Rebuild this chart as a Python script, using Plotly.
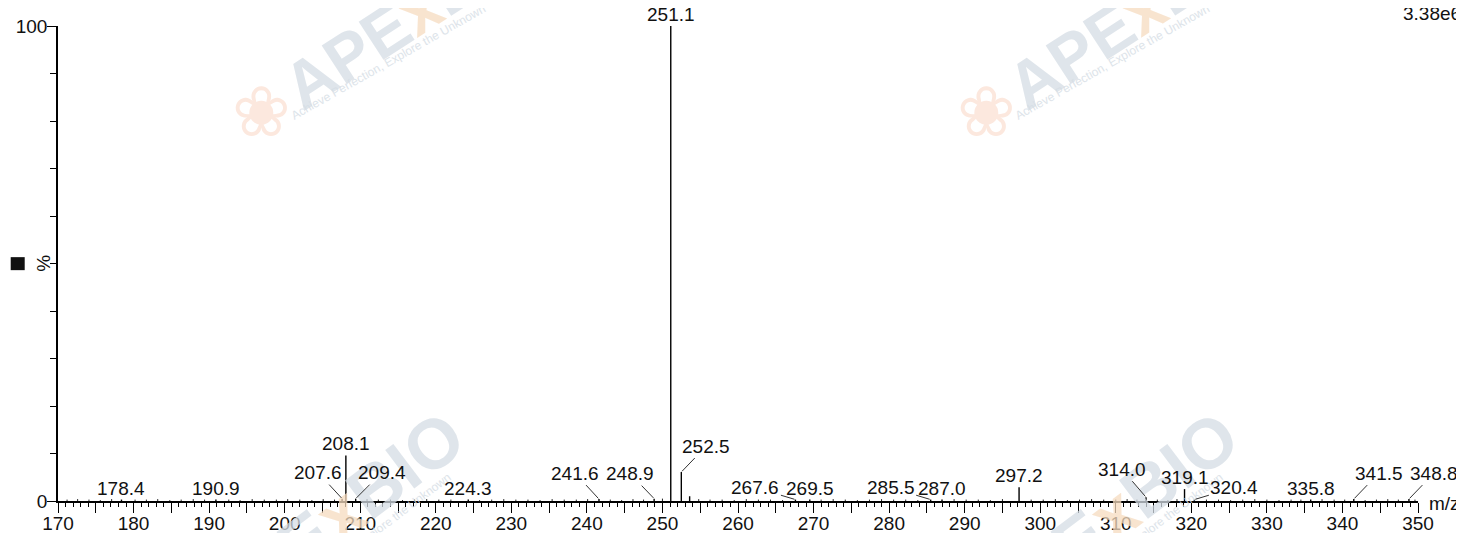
import plotly.graph_objects as go

# ---------------- data ----------------
peak_mz = [178.4, 190.9, 207.6, 208.1, 209.4, 224.3, 241.6, 248.9, 251.1, 252.5, 253.6,
           267.6, 269.5, 285.5, 287.0, 297.2, 314.0, 319.1, 320.4, 335.8, 341.5, 348.8]
peak_int = [0.3, 0.3, 0.5, 9.6, 0.5, 0.3, 0.4, 0.5, 100.0, 6.1, 1.0,
            0.3, 0.3, 0.3, 0.3, 2.9, 0.8, 2.5, 0.3, 0.3, 0.4, 0.4]
peak_labels = ["178.4", "190.9", "207.6", "208.1", "209.4", "224.3", "241.6", "248.9", "251.1", "252.5", "",
               "267.6", "269.5", "285.5", "287.0", "297.2", "314.0", "319.1", "320.4", "335.8", "341.5", "348.8"]

noise_mz = [171.2, 172.6, 174.1, 175.6, 177.1, 180.2, 181.7, 183.2, 184.8, 186.3, 187.9, 189.4,
            192.6, 194.1, 195.7, 197.3, 198.9, 200.4, 202.0, 203.6, 205.1, 206.6, 210.9, 212.4,
            214.0, 215.6, 217.2, 218.8, 220.4, 222.0, 225.8, 227.4, 229.0, 230.6, 232.2, 233.8,
            235.4, 237.0, 238.6, 240.1, 243.1, 244.6, 246.1, 247.5, 250.0, 254.8, 256.3, 257.9,
            259.5, 261.1, 262.7, 264.3, 265.9, 271.0, 272.6, 274.2, 275.8, 277.4, 279.0, 280.6,
            282.2, 283.8, 288.6, 290.2, 291.8, 293.4, 295.0, 298.8, 300.4, 302.0, 303.6, 305.2,
            306.8, 308.4, 310.0, 311.5, 312.8, 315.5, 316.9, 318.1, 322.0, 323.6, 325.2, 326.8,
            328.4, 330.0, 331.6, 333.2, 334.5, 337.3, 338.9, 340.3, 343.0, 344.5, 346.0, 347.4, 349.6]
noise_int = [0.3, 0.4, 0.3, 0.2, 0.4, 0.3, 0.3, 0.4, 0.2, 0.3, 0.4, 0.3,
             0.3, 0.2, 0.4, 0.3, 0.3, 0.4, 0.3, 0.2, 0.4, 0.3, 0.4, 0.3,
             0.3, 0.2, 0.3, 0.4, 0.3, 0.3, 0.2, 0.3, 0.4, 0.3, 0.3, 0.2,
             0.4, 0.3, 0.3, 0.4, 0.3, 0.2, 0.4, 0.3, 0.5, 0.4, 0.3, 0.3,
             0.2, 0.4, 0.3, 0.3, 0.2, 0.3, 0.4, 0.3, 0.2, 0.3, 0.4, 0.3,
             0.3, 0.2, 0.4, 0.3, 0.3, 0.2, 0.4, 0.3, 0.3, 0.4, 0.2, 0.3,
             0.4, 0.3, 0.3, 0.4, 0.3, 0.3, 0.2, 0.4, 0.3, 0.3, 0.2, 0.3,
             0.4, 0.3, 0.2, 0.3, 0.3, 0.4, 0.3, 0.3, 0.2, 0.3, 0.4, 0.3, 0.3]

x_major_ticks = list(range(170, 351, 5))
x_tick_text = [str(v) if v % 10 == 0 else "" for v in x_major_ticks]
y_ticks = [0, 100]
y_tick_text = ["0", "100"]
base_peak_text = "3.38e6"
x_title = "m/z"
y_title = "%"

# ------------- layout/style settings -------------
PAGE = 8                      # default body margin of the html page
W, H = 1464 - PAGE, 533 - PAGE
L, R, T, B = 50.3, 45.5, 18, 32.3
FONT = "Liberation Sans, Arial, sans-serif"
FS = 19

# label offsets in pixels for labels with leader lines (style, not data)
leader_offsets = {
    "207.6": (-24, -26), "209.4": (26, -26), "241.6": (-24, -26), "248.9": (-24, -25),
    "252.5": (25, -26), "267.6": (-40, -12), "285.5": (-40, -12), "314.0": (-24, -28),
    "320.4": (40, -12), "341.5": (25, -26), "348.8": (25, -26),
}

# watermark placements: (word centre, word angle, word size, tagline centre, tagline angle)
watermarks = [
    ((412, 14), -33, 66, (389, 62), -29.5),
    ((1136, 14), -33, 66, (1113, 62), -29.5),
    ((333, 520), -37, 70, (362, 542), -37),
    ((1107, 520), -37, 70, (1134, 542), -37),
]


def px_x(xp):
    """screen pixel (reference coords) -> paper x"""
    return (xp - PAGE - L) / (W - L - R)


def px_y(yp):
    """screen pixel (reference coords) -> paper y"""
    return (H - B - (yp - PAGE)) / (H - T - B)


# build stick traces from data
def sticks(xs, ys):
    sx, sy = [], []
    for m, v in zip(xs, ys):
        sx += [m, m, None]
        sy += [0, v, None]
    return sx, sy


fig = go.Figure()
nx, ny = sticks(noise_mz, noise_int)
fig.add_trace(go.Scatter(x=nx, y=ny, mode="lines", line=dict(color="#222", width=1),
                         hoverinfo="skip", showlegend=False))
sx, sy = sticks(peak_mz, peak_int)
fig.add_trace(go.Scatter(x=sx, y=sy, mode="lines", line=dict(color="black", width=1.4),
                         showlegend=False))

annotations = []

# watermarks (faint)
wm_word = "APE<span style='color:#f6dcc0'>x</span>BIO"
wm_tag = "Achieve Perfection, Explore the Unknown"
for (wx, wy), wang, wsize, (tx, ty), tang in watermarks:
    annotations.append(dict(xref="paper", yref="paper", x=px_x(wx), y=px_y(wy),
                            text=wm_word, showarrow=False, textangle=wang,
                            font=dict(family=FONT, size=wsize, color="#d5dde5", weight="bold"),
                            xanchor="center", yanchor="middle", opacity=0.75))
    annotations.append(dict(xref="paper", yref="paper", x=px_x(tx), y=px_y(ty),
                            text=wm_tag, showarrow=False, textangle=tang,
                            font=dict(family=FONT, size=12, color="#d5dde5"),
                            xanchor="center", yanchor="middle", opacity=0.8))
for cx, cy in [(262, 112), (987, 112)]:
    annotations.append(dict(xref="paper", yref="paper", x=px_x(cx), y=px_y(cy),
                            text="❀", showarrow=False,
                            font=dict(family="DejaVu Sans", size=70, color="#fce8de"),
                            xanchor="center", yanchor="middle"))

# peak labels
for m, v, lab in zip(peak_mz, peak_int, peak_labels):
    if not lab:
        continue
    if lab in leader_offsets:
        ax, ay = leader_offsets[lab]
        annotations.append(dict(x=m, y=v, xref="x", yref="y", text=lab, showarrow=True,
                                arrowhead=0, arrowwidth=1, arrowcolor="#333", ax=ax, ay=ay,
                                standoff=1, font=dict(family=FONT, size=FS, color="#111")))
    else:
        annotations.append(dict(x=m, y=v, xref="x", yref="y", text=lab, showarrow=False,
                                xanchor="center", yanchor="bottom", yshift=-1,
                                font=dict(family=FONT, size=FS, color="#111")))

# axis titles / extras
annotations.append(dict(xref="paper", yref="paper", x=px_x(1445), y=px_y(503), text=x_title,
                        showarrow=False, xanchor="center", yanchor="middle",
                        font=dict(family=FONT, size=FS, color="#111")))
annotations.append(dict(xref="paper", yref="paper", x=px_x(43), y=px_y(263), text=y_title,
                        showarrow=False, textangle=-90, xanchor="center", yanchor="middle",
                        font=dict(family=FONT, size=FS, color="#111")))
annotations.append(dict(xref="paper", yref="paper", x=px_x(1464), y=px_y(14), text=base_peak_text,
                        showarrow=False, xanchor="right", yanchor="middle",
                        font=dict(family=FONT, size=FS, color="#111")))

shapes = [dict(type="rect", xref="paper", yref="paper",
               x0=px_x(11), x1=px_x(25), y0=px_y(270), y1=px_y(257),
               fillcolor="#111", line=dict(width=0))]

fig.update_layout(
    width=W, height=H,
    margin=dict(l=L, r=R, t=T, b=B, pad=0, autoexpand=False),
    paper_bgcolor="white", plot_bgcolor="white",
    font=dict(family=FONT, size=FS, color="#111"),
    annotations=annotations, shapes=shapes,
    xaxis=dict(range=[170, 350], tickmode="array", tickvals=x_major_ticks, ticktext=x_tick_text,
               ticks="outside", ticklen=10, tickwidth=1.3, tickcolor="black",
               ticklabelstandoff=-6,
               showline=True, linecolor="black", linewidth=1.5, automargin=False,
               showgrid=False, zeroline=False, tickfont=dict(family=FONT, size=FS, color="#111"),
               minor=dict(tickmode="linear", tick0=170, dtick=1, ticks="outside", ticklen=4,
                          tickwidth=1, tickcolor="black", showgrid=False)),
    yaxis=dict(range=[0, 100], tickmode="array", tickvals=y_ticks, ticktext=y_tick_text,
               ticks="outside", ticklen=9, tickwidth=1.3, tickcolor="black",
               ticklabelstandoff=-4,
               showline=True, linecolor="black", linewidth=1.5, automargin=False,
               showgrid=False, zeroline=False, tickfont=dict(family=FONT, size=FS, color="#111"),
               minor=dict(tickmode="linear", tick0=0, dtick=10, ticks="outside", ticklen=6,
                          tickwidth=1.3, tickcolor="black", showgrid=False)),
)

fig.write_html("out.html")
